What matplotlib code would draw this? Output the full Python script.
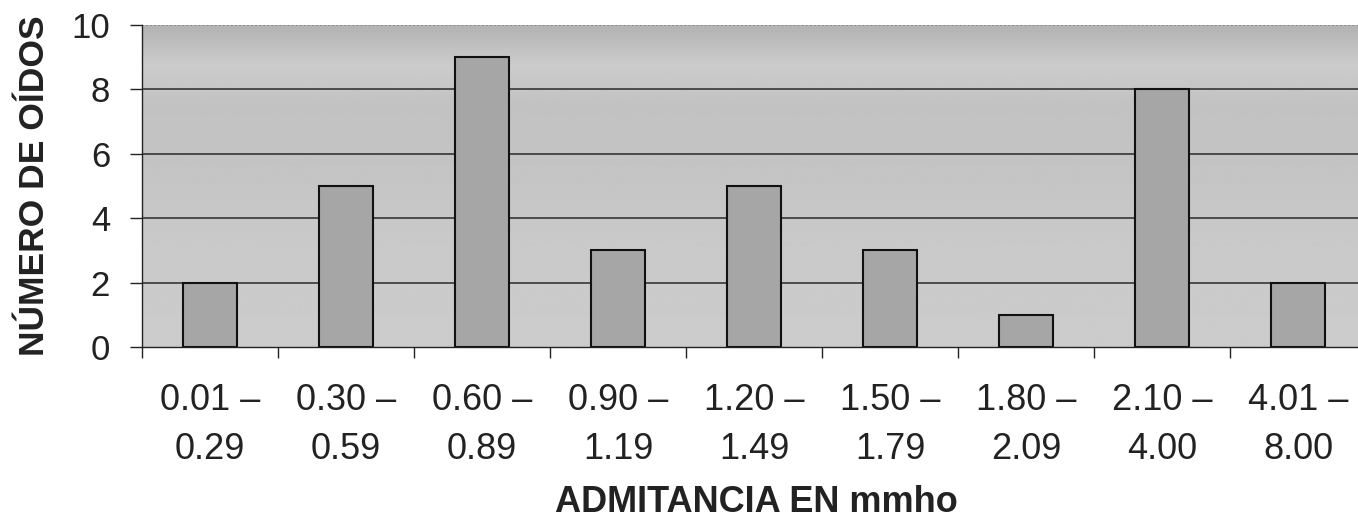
import numpy as np
import matplotlib
matplotlib.use("Agg")
import matplotlib.pyplot as plt

plt.rcParams['font.family'] = ['Liberation Sans', 'DejaVu Sans']

categories = ["0.01 –\n0.29", "0.30 –\n0.59", "0.60 –\n0.89", "0.90 –\n1.19",
              "1.20 –\n1.49", "1.50 –\n1.79", "1.80 –\n2.09", "2.10 –\n4.00",
              "4.01 –\n8.00"]
counts = [2, 5, 9, 3, 5, 3, 1, 8, 2]
yticks = [0, 2, 4, 6, 8, 10]

W, H = 1358, 524
fig = plt.figure(figsize=(W / 100, H / 100), dpi=100)
fig.patch.set_facecolor('white')

left, right, top, bottom = 142, 1366, 25, 347
ax = fig.add_axes([left / W, (H - bottom) / H, (right - left) / W, (bottom - top) / H])

x = np.arange(len(categories))
ax.set_xlim(-0.5, len(categories) - 0.5)
ax.set_ylim(0, 10)

# background gradient (top darker, middle lighter)
grad_stops_y = [0.0, 0.3, 0.55, 0.75, 0.88, 1.0]
grad_stops_v = [0.80, 0.79, 0.77, 0.76, 0.80, 0.70]
yy = np.linspace(0, 1, 200)
vals = np.interp(yy, grad_stops_y, grad_stops_v)
img = np.repeat(vals[:, None], 2, axis=1)
ax.imshow(img, cmap='gray', vmin=0, vmax=1, origin='lower', aspect='auto',
          extent=[-0.5, len(categories) - 0.5, 0, 10], zorder=0, interpolation='bilinear')

# gridlines
for yv in yticks[1:]:
    ax.axhline(yv, color='#2a2a2a' if yv < 10 else '#777777', lw=1.1,
               ls='-' if yv < 10 else ':', zorder=1)

ax.bar(x, counts, width=0.40, color='#a6a6a6', edgecolor='#111111', linewidth=1.5, zorder=2)

for s in ['top', 'right']:
    ax.spines[s].set_visible(False)
ax.spines['left'].set_color('#222222')
ax.spines['bottom'].set_color('#222222')
ax.spines['left'].set_linewidth(1.0)
ax.spines['bottom'].set_linewidth(1.0)

ax.set_yticks(yticks)
ax.set_yticklabels([str(v) for v in yticks], fontsize=25, color='#222222')
ax.tick_params(axis='y', direction='out', length=9, width=1, pad=14, color='#222222')

ax.set_xticks(x)
ax.set_xticklabels(categories, fontsize=26, color='#222222', linespacing=1.5)
ax.set_xticks(np.arange(len(categories) + 1) - 0.5, minor=True)
ax.tick_params(axis='x', which='major', length=0, pad=26)
ax.tick_params(axis='x', which='minor', direction='out', length=8, width=1, color='#222222')

fig.text(35 / W, 1 - 186 / H, "NÚMERO DE OÍDOS", rotation=90, ha='center', va='center',
         fontsize=25.5, fontweight='bold', color='#222222')
fig.text(756 / W, 1 - 512 / H, "ADMITANCIA EN mmho", ha='center', va='baseline',
         fontsize=26, fontweight='bold', color='#222222')

fig.savefig('out.png', dpi=100)
